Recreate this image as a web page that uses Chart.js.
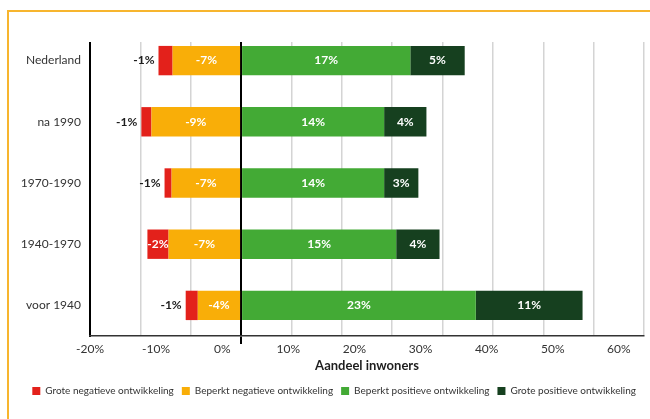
<!DOCTYPE html>
<html>
<head>
<meta charset="utf-8">
<script src="https://cdn.jsdelivr.net/npm/chart.js@4.4.1/dist/chart.umd.min.js"></script>
<style>
  html, body { margin: 0; padding: 0; background: #fff; }
  #wrap { position: relative; width: 650px; height: 419px; overflow: hidden; }
  #frame { position: absolute; left: 7px; top: 10px; width: 700px; height: 500px;
           border-top: 2px solid #f7b52e; border-left: 2px solid #f7b52e; }
  #myChart { position: absolute; left: 0; top: 0; }
</style>
</head>
<body>
<div id="wrap">
  <div id="frame"></div>
  <canvas id="myChart" width="650" height="419"></canvas>
</div>
<script>
// share of residents per building period, in percent
var categories = ['Nederland', 'na 1990', '1970-1990', '1940-1970', 'voor 1940'];
var groteNegatief = [-1.4, -1.0, -0.7, -2.1, -1.2];
var beperktNegatief = [-6.8, -8.9, -6.9, -7.2, -4.3];
var beperktPositief = [16.8, 14.2, 14.2, 15.4, 23.3];
var grotePositief = [5.4, 4.2, 3.4, 4.3, 10.6];
var tickLabels = [-20, -10, 0, 10, 20, 30, 40, 50, 60];

const ctx = document.getElementById('myChart');
const fontName = 'Lato, "Open Sans", sans-serif';

// hides the top strip of the grid so the lines start a bit below the first bar row
const gridMask = {
  id: 'gridMask',
  beforeDatasetsDraw: function (chart) {
    const a = chart.chartArea;
    chart.ctx.save();
    chart.ctx.fillStyle = '#fff';
    chart.ctx.fillRect(a.left - 2, a.top - 1, a.right - a.left + 4, 13);
    chart.ctx.restore();
  },
};

// value labels on the bar segments, small ones go left of the bar
const segmentLabels = {
  id: 'segmentLabels',
  afterDatasetsDraw: function (chart) {
    const c = chart.ctx;
    c.save();
    c.textBaseline = 'middle';
    c.font = 'bold 12px ' + fontName;
    chart.data.datasets.forEach(function (ds, i) {
      const meta = chart.getDatasetMeta(i);
      meta.data.forEach(function (bar, j) {
        const p = bar.getProps(['x', 'base', 'y'], true);
        const left = Math.min(p.x, p.base);
        const right = Math.max(p.x, p.base);
        const text = Math.round(ds.data[j]) + '%';
        if (right - left < 18) {
          c.fillStyle = '#1e1e1e';
          c.textAlign = 'right';
          c.fillText(text, left - 4, p.y);
        } else {
          c.fillStyle = '#fff';
          c.textAlign = 'center';
          c.fillText(text, (left + right) / 2, p.y);
        }
      });
    });
    c.restore();
  },
};

new Chart(ctx, {
  type: 'bar',
  data: {
    labels: categories,
    datasets: [
      { label: 'Grote negatieve ontwikkeling', data: groteNegatief, backgroundColor: '#e3211b', order: 1 },
      { label: 'Beperkt negatieve ontwikkeling', data: beperktNegatief, backgroundColor: '#f9ae08', order: 0 },
      { label: 'Beperkt positieve ontwikkeling', data: beperktPositief, backgroundColor: '#43aa35', order: 0 },
      { label: 'Grote positieve ontwikkeling', data: grotePositief, backgroundColor: '#16401f', order: 1 },
    ],
  },
  options: {
    indexAxis: 'y',
    responsive: false,
    animation: false,
    layout: { padding: { left: 0, right: 6, top: 30, bottom: 13 } },
    datasets: { bar: { barPercentage: 0.48, categoryPercentage: 1, xAxisID: 'x' } },
    scales: {
      y: {
        stacked: true,
        afterFit: function (scale) {
          scale.width = 90;
        },
        grid: { display: false, drawTicks: false },
        border: { color: '#000', width: 2 },
        ticks: { padding: 9, color: '#333', font: { family: fontName, size: 12 } },
      },
      x: {
        stacked: true,
        min: -15,
        max: 40,
        ticks: { display: false, stepSize: 5 },
        grid: {
          color: function (c) { return c.tick.value === 0 ? '#000' : '#d4d4d4'; },
          lineWidth: function (c) { return c.tick.value === 0 ? 2 : 1.5; },
          tickColor: function (c) { return c.tick.value === 0 ? '#000' : 'rgba(0,0,0,0)'; },
          tickLength: 8,
          tickWidth: 2,
        },
        border: { color: '#333', width: 1.5 },
      },
      x2: {
        type: 'linear',
        position: 'bottom',
        min: -20,
        max: 63.8,
        afterBuildTicks: function (axis) {
          axis.ticks = tickLabels.map(function (v) { return { value: v }; });
        },
        grid: { display: false },
        border: { display: false },
        ticks: {
          color: '#333',
          padding: -10,
          maxRotation: 0,
          autoSkip: false,
          font: { family: fontName, size: 12 },
          callback: function (v) { return v + '%'; },
        },
        title: {
          display: true,
          text: 'Aandeel inwoners',
          color: '#1e1e1e',
          padding: { top: 12, bottom: 4 },
          font: { family: fontName, size: 13, weight: 'bold' },
        },
      },
    },
    plugins: {
      legend: {
        position: 'bottom',
        align: 'end',
        labels: {
          boxWidth: 8,
          boxHeight: 8,
          padding: 8,
          color: '#333',
          font: { family: fontName, size: 10 },
          sort: function (a, b) { return a.datasetIndex - b.datasetIndex; },
        },
      },
      tooltip: { enabled: false },
    },
  },
  plugins: [gridMask, segmentLabels],
});
</script>
</body>
</html>
